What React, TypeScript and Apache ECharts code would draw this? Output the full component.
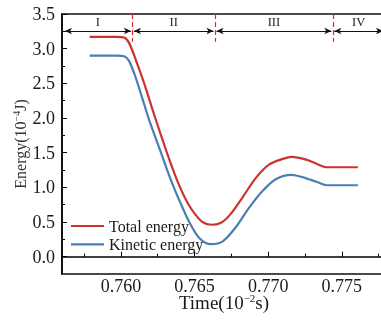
import React, { useEffect, useRef } from "react";
import * as echarts from "echarts";

// Time (10^-2 s) vs Energy (10^-4 J)
const totalEnergy: [number, number][] = [
  [0.75788, 3.17], [0.75974, 3.17], [0.76022, 3.16], [0.76056, 3.08], [0.76101, 2.84],
  [0.76158, 2.5], [0.76233, 2.0], [0.76314, 1.49], [0.76362, 1.21], [0.7641, 0.96],
  [0.76457, 0.76], [0.76505, 0.61], [0.76554, 0.5], [0.76612, 0.46], [0.7668, 0.49],
  [0.76743, 0.61], [0.76827, 0.86], [0.76918, 1.14], [0.77008, 1.33], [0.77099, 1.41],
  [0.77158, 1.44], [0.77258, 1.4], [0.77328, 1.34], [0.77398, 1.29], [0.7745, 1.29],
  [0.77609, 1.29],
];
const kineticEnergy: [number, number][] = [
  [0.75788, 2.9], [0.75974, 2.9], [0.76022, 2.89], [0.76056, 2.82], [0.76101, 2.58],
  [0.76146, 2.28], [0.76192, 1.97], [0.76274, 1.49], [0.76321, 1.21], [0.76369, 0.95],
  [0.76416, 0.72], [0.76464, 0.5], [0.76532, 0.27], [0.76612, 0.18], [0.76691, 0.22],
  [0.76782, 0.43], [0.76872, 0.71], [0.76963, 0.95], [0.77054, 1.12], [0.77158, 1.18],
  [0.77258, 1.13], [0.77328, 1.08], [0.77398, 1.03], [0.7745, 1.03], [0.77609, 1.03],
];
const seriesNames = ["Total energy", "Kinetic energy"];

const xMajorTicks = [0.76, 0.765, 0.77, 0.775];
const xMinorTicks = [0.7575, 0.7625, 0.7675, 0.7725, 0.7775];
const yMajorTicks = [0, 0.5, 1.0, 1.5, 2.0, 2.5, 3.0, 3.5];
const yMinorTicks = [0.25, 0.75, 1.25, 1.75, 2.25, 2.75, 3.25];

const sectionBounds = [0.756, 0.76078, 0.76639, 0.77439, 0.7778];
const sectionLabels = ["I", "II", "III", "IV"];

const X_MIN = 0.756;
const X_MAX = 0.778;
const Y_MIN = -0.25;
const Y_MAX = 3.5;

const FONT = "'Liberation Serif', 'Times New Roman', serif";
const RED = "#cc3330";
const BLUE = "#4b7eb2";

export default function App() {
  const ref = useRef<HTMLDivElement>(null);
  useEffect(() => {
    if (!ref.current) return;
    const chart = echarts.init(ref.current, undefined, { renderer: "svg" });

    const arrowY = 3.255;
    const divTop = 3.5;
    const divBottom = 3.1;
    const markData: any[] = [];
    for (let i = 1; i < sectionBounds.length - 1; i++) {
      const b = sectionBounds[i];
      markData.push([
        { coord: [b, divTop], symbol: "none", lineStyle: { color: "#e0262b", type: [5, 3], width: 1.2 }, label: { show: false } },
        { coord: [b, divBottom], symbol: "none" },
      ]);
    }
    for (let i = 0; i < sectionLabels.length; i++) {
      const lo = sectionBounds[i] + (i === 0 ? 0.0002 : 0.0001);
      const hi = sectionBounds[i + 1] - (i === sectionLabels.length - 1 ? 0 : 0.0001);
      markData.push([
        {
          coord: [lo, arrowY],
          symbol: "arrow",
          symbolSize: [5, 7],
          lineStyle: { color: "#111", type: "solid", width: 1 },
          label: {
            show: true,
            position: "middle",
            formatter: sectionLabels[i],
            distance: 2,
            fontFamily: FONT,
            fontSize: 12.5,
            color: "#222",
          },
        },
        { coord: [hi, arrowY], symbol: "arrow", symbolSize: [5, 7] },
      ]);
    }

    const axisFont = { fontFamily: FONT, fontSize: 18, color: "#1a1a1a", lineHeight: 14 };

    chart.setOption({
      animation: false,
      grid: {
        left: 62,
        top: 14,
        width: 324,
        height: 260,
        show: true,
        borderColor: "#4a4a4a",
        borderWidth: 2,
        outerBoundsMode: "none",
      },
      legend: {
        orient: "vertical",
        left: 66,
        top: 212,
        icon: "rect",
        itemWidth: 33,
        itemHeight: 2.2,
        itemGap: 0.3,
        data: seriesNames,
        textStyle: { fontFamily: FONT, fontSize: 16, color: "#1a1a1a", lineHeight: 18 },
      },
      xAxis: [
        {
          type: "value",
          min: X_MIN,
          max: X_MAX,
          position: "bottom",
          name: "Time(10{sup|−2}s)",
          nameLocation: "middle",
          nameGap: 20,
          nameMoveOverlap: false,
          nameTextStyle: {
            fontFamily: FONT,
            fontSize: 19,
            color: "#1a1a1a",
            lineHeight: 16,
            rich: { sup: { fontFamily: FONT, fontSize: 11, lineHeight: 16, padding: [0, 0, 8, 0], color: "#1a1a1a" } },
          },
          axisLine: { show: true, lineStyle: { color: "#000", width: 1.5 } },
          axisTick: { show: true, inside: true, length: 5, customValues: xMajorTicks, lineStyle: { color: "#000", width: 1 } },
          axisLabel: {
            ...axisFont,
            margin: 5,
            customValues: xMajorTicks,
            formatter: (v: number) => v.toFixed(3),
          },
          splitLine: { show: false },
        },
        {
          type: "value",
          min: X_MIN,
          max: X_MAX,
          position: "bottom",
          axisLine: { show: false },
          axisTick: { show: true, inside: true, length: 3, customValues: xMinorTicks, lineStyle: { color: "#000", width: 1 } },
          axisLabel: { show: false },
          splitLine: { show: false },
        },
      ],
      yAxis: [
        {
          type: "value",
          min: Y_MIN,
          max: Y_MAX,
          name: "Energy(10{sup|−4}J)",
          nameLocation: "middle",
          nameGap: 33,
          nameMoveOverlap: false,
          nameTextStyle: {
            fontFamily: FONT,
            fontSize: 16,
            color: "#333",
            rich: { sup: { fontFamily: FONT, fontSize: 10, padding: [0, 0, 8, 0], color: "#333" } },
          },
          axisLine: { show: true, lineStyle: { color: "#000", width: 1.5 } },
          axisTick: { show: true, inside: true, length: 5, customValues: yMajorTicks, lineStyle: { color: "#000", width: 1 } },
          axisLabel: {
            ...axisFont,
            margin: 7,
            customValues: yMajorTicks,
            formatter: (v: number) => v.toFixed(1),
          },
          splitLine: { show: false },
        },
        {
          type: "value",
          min: Y_MIN,
          max: Y_MAX,
          position: "left",
          axisLine: { show: false },
          axisTick: { show: true, inside: true, length: 3, customValues: yMinorTicks, lineStyle: { color: "#000", width: 1 } },
          axisLabel: { show: false },
          splitLine: { show: false },
        },
      ],
      series: [
        {
          name: seriesNames[0],
          type: "line",
          data: totalEnergy,
          symbol: "none",
          smooth: 0.3,
          lineStyle: { color: RED, width: 2.2 },
          itemStyle: { color: RED },
          z: 3,
          markLine: {
            silent: true,
            symbol: ["none", "none"],
            animation: false,
            data: markData,
          },
        },
        {
          name: seriesNames[1],
          type: "line",
          data: kineticEnergy,
          symbol: "none",
          smooth: 0.3,
          lineStyle: { color: BLUE, width: 2.2 },
          itemStyle: { color: BLUE },
          z: 3,
        },
      ],
    });
    return () => chart.dispose();
  }, []);

  return <div ref={ref} style={{ position: "fixed", left: 0, top: 0, width: 381, height: 320 }} />;
}
